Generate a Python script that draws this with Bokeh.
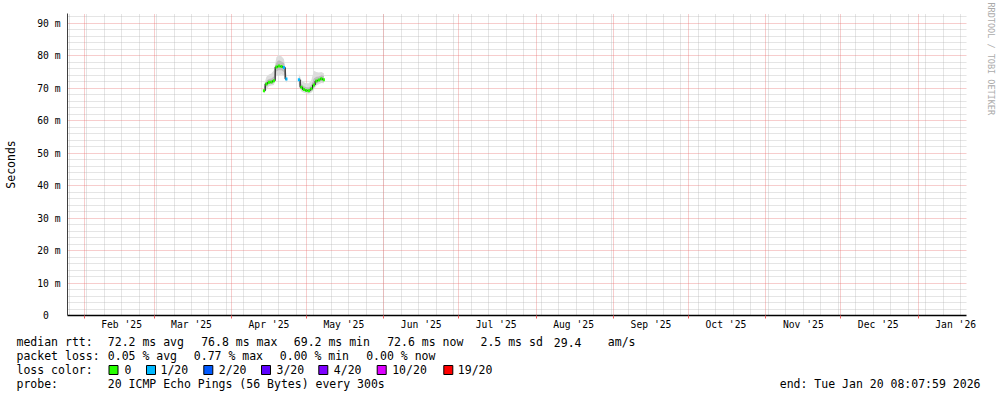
import math
import numpy as np
import pandas as pd
from bokeh.plotting import figure
from bokeh.layouts import column
from bokeh.models import FixedTicker, Grid, Label, ColumnDataSource, Range1d
from bokeh.core.properties import value
from bokeh.embed import file_html
from bokeh.resources import INLINE

# ---------------- data ----------------
dates = ["2025-04-14", "2025-04-15", "2025-04-16", "2025-04-17", "2025-04-18",
         "2025-04-19", "2025-04-20", "2025-04-21", "2025-04-22", "2025-04-23",
         "2025-04-25",
         "2025-04-28", "2025-04-29", "2025-04-30", "2025-05-01", "2025-05-02",
         "2025-05-03", "2025-05-04", "2025-05-05", "2025-05-06", "2025-05-07", "2025-05-08"]
median_ms = [69.2, 71.3, 71.8, 71.9, 72.3, 76.5, 76.8, 76.7, 76.4, 72.8,
             np.nan,
             72.6, 70.3, 69.6, 69.3, 69.2, 69.8, 71.0, 72.2, 72.5, 72.9, 72.6]
loss_of_20 = [0, 0, 0, 0, 0, 0, 0, 0, 1, 1,
              0,
              1, 0, 0, 0, 0, 0, 0, 0, 0, 0, 0]
smoke_lo_outer = [68.3, 69.5, 70.6, 70.8, 71.0, 73.8, 74.0, 74.2, 73.8, 71.5,
                  np.nan,
                  70.5, 69.0, 68.6, 68.4, 68.3, 68.6, 69.5, 70.8, 71.2, 71.6, 71.5]
smoke_hi_outer = [71.0, 73.5, 74.2, 74.5, 75.5, 79.5, 80.3, 79.8, 79.0, 74.5,
                  np.nan,
                  74.5, 72.5, 71.8, 71.5, 71.5, 72.5, 75.4, 75.0, 74.8, 75.0, 74.6]
smoke_lo_inner = [68.8, 70.5, 71.2, 71.3, 71.6, 75.2, 75.5, 75.5, 75.0, 72.0,
                  np.nan,
                  71.2, 69.6, 69.1, 68.8, 68.7, 69.2, 70.2, 71.4, 71.8, 72.1, 72.0]
smoke_hi_inner = [70.0, 72.3, 72.8, 73.0, 73.6, 78.0, 78.6, 78.2, 77.8, 73.8,
                  np.nan,
                  73.6, 71.3, 70.6, 70.3, 70.2, 71.0, 73.0, 73.5, 73.6, 74.0, 73.8]

loss_levels = [0, 1, 2, 3, 4, 10, 19]
loss_labels = ["0", "1/20", "2/20", "3/20", "4/20", "10/20", "19/20"]
loss_colors = ["#26ff00", "#00b8ff", "#0059ff", "#5e00ff", "#7e00ff", "#dd00ff", "#ff0000"]

month_starts = ["2025-02-01", "2025-03-01", "2025-04-01", "2025-05-01", "2025-06-01",
                "2025-07-01", "2025-08-01", "2025-09-01", "2025-10-01", "2025-11-01",
                "2025-12-01", "2026-01-01"]
month_labels = ["Feb '25", "Mar '25", "Apr '25", "May '25", "Jun '25", "Jul '25",
                "Aug '25", "Sep '25", "Oct '25", "Nov '25", "Dec '25", "Jan '26"]
y_ticks = [0, 10, 20, 30, 40, 50, 60, 70, 80, 90]
y_labels = ["0\u00a0\u00a0", "10 m", "20 m", "30 m", "40 m", "50 m", "60 m", "70 m", "80 m", "90 m"]

end_time = "2026-01-20 08:07:59"
span_days = 360

rtt_stats = ["72.2 ms avg", "76.8 ms max", "69.2 ms min", "72.6 ms now", "2.5 ms sd", "29.4", "am/s"]
loss_stats = ["0.05 % avg", "0.77 % max", "0.00 % min", "0.00 % now"]
probe_text = "20 ICMP Echo Pings (56 Bytes) every 300s"
end_text = "end: Tue Jan 20 08:07:59 2026"

# ---------------- conversions ----------------
epoch = pd.Timestamp("2025-01-01")
def to_days(s):
    return (pd.Timestamp(s) - epoch) / pd.Timedelta(days=1)

x = np.array([to_days(d) for d in dates])
x_end = to_days(end_time)
x_start = x_end - span_days
med = np.array(median_ms, dtype=float)
Y_TOP = 93.0

def loss_color(n):
    c = loss_colors[0]
    for lv, col in zip(loss_levels, loss_colors):
        if n >= lv:
            c = col
    return c

MONO = "DejaVu Sans Mono"
W = 997
H_CHART, H_KEY = 333, 64
FL, FR, FT, FB = 67, 31, 13, 18
FRAME_W = W - FL - FR
FRAME_H = H_CHART - FT - FB
FRAME_BOTTOM = H_CHART - FB

p = figure(width=W, height=H_CHART, output_backend="svg", toolbar_location=None,
           x_range=Range1d(x_start, x_end), y_range=Range1d(0, Y_TOP),
           min_border_left=FL, min_border_right=FR, min_border_top=FT, min_border_bottom=FB)
p.outline_line_color = None
p.background_fill_color = "white"
p.border_fill_color = "white"
p.xgrid.visible = False
p.ygrid.visible = False
p.frame_align = False

def px_to_x(cx):
    return x_start + (cx - FL) * (x_end - x_start) / FRAME_W
def px_to_y(cy):
    return (FRAME_BOTTOM - cy) * Y_TOP / FRAME_H

# grids
sundays = [to_days(d) for d in pd.date_range((epoch + pd.Timedelta(days=x_start)).normalize(),
                                             pd.Timestamp(end_time), freq="W-SUN")]
ms_days = [to_days(d) for d in month_starts]
minor_y = [v for v in range(2, 93, 2) if v % 10 != 0]
major_y = [v for v in y_ticks if v > 0]

minor_col, minor_alpha = "#B4B4B4", 0.7
major_col, major_alpha = "#E87070", 0.7
p.add_layout(Grid(dimension=0, ticker=FixedTicker(ticks=sundays), grid_line_color=minor_col,
                  grid_line_alpha=minor_alpha, grid_line_dash="1 1"))
p.add_layout(Grid(dimension=1, ticker=FixedTicker(ticks=minor_y), grid_line_color=minor_col,
                  grid_line_alpha=minor_alpha, grid_line_dash="1 1"))
p.add_layout(Grid(dimension=0, ticker=FixedTicker(ticks=ms_days), grid_line_color=major_col,
                  grid_line_alpha=major_alpha, grid_line_dash="1 1"))
p.add_layout(Grid(dimension=1, ticker=FixedTicker(ticks=major_y), grid_line_color=major_col,
                  grid_line_alpha=major_alpha, grid_line_dash="1 1"))

# axes
label_ticks = [int(round(d)) + 15 for d in ms_days]
xa = p.xaxis[0]
xa.ticker = FixedTicker(ticks=label_ticks, minor_ticks=ms_days)
xa.major_label_overrides = {t: l for t, l in zip(label_ticks, month_labels)}
xa.major_tick_line_color = None
xa.major_tick_out = 0
xa.major_tick_in = 0
xa.minor_tick_line_color = "#F06060"
xa.minor_tick_out = 3
xa.minor_tick_in = 0
xa.major_label_standoff = 0
xa.major_label_text_font = MONO
xa.major_label_text_font_size = "9.7px"
xa.major_label_text_color = "black"
xa.axis_line_color = "black"
xa.axis_line_width = 1.5

ya = p.yaxis[0]
ya.ticker = FixedTicker(ticks=y_ticks)
ya.major_label_overrides = {t: l for t, l in zip(y_ticks, y_labels)}
ya.major_tick_line_color = None
ya.major_tick_out = 0
ya.major_tick_in = 0
ya.minor_tick_line_color = None
ya.minor_tick_out = 0
ya.minor_tick_in = 0
ya.major_label_standoff = 7
ya.major_label_text_font = MONO
ya.major_label_text_font_size = "9.7px"
ya.major_label_text_color = "black"
ya.axis_line_color = "#404040"
ya.axis_label = "Seconds"
ya.axis_label_text_font = MONO
ya.axis_label_text_font_size = "11.5px"
ya.axis_label_text_font_style = "normal"
ya.axis_label_text_color = "black"
ya.axis_label_standoff = 16

# smoke, split at gaps
valid = ~np.isnan(med)
segments, cur = [], []
for i, ok in enumerate(valid):
    if ok:
        cur.append(i)
    elif cur:
        segments.append(cur); cur = []
if cur:
    segments.append(cur)

for seg in segments:
    xs = x[seg]
    p.varea(x=xs, y1=np.array(smoke_lo_outer)[seg], y2=np.array(smoke_hi_outer)[seg],
            fill_color="#DDDDDD")
    p.varea(x=xs, y1=np.array(smoke_lo_inner)[seg], y2=np.array(smoke_hi_inner)[seg],
            fill_color="#BDBDBD")
    p.step(x=xs, y=med[seg], mode="center", line_color="black", line_width=1)

src = ColumnDataSource(dict(x=x[valid], y=med[valid],
                            c=[loss_color(n) for n, ok in zip(loss_of_20, valid) if ok]))
p.rect(x="x", y="y", width=0.85, height=3, height_units="screen", fill_color="c",
       line_color=None, source=src)

# vertical credit text in the right margin
p.add_layout(Label(x=px_to_x(990), y=px_to_y(2), x_units="data", y_units="data",
                   text="RRDTOOL / TOBI OETIKER", text_font=MONO, text_font_size="8.5px",
                   text_color="#AAAAAA", text_align="left", text_baseline="middle",
                   angle=-math.pi / 2), "right")

# ---------------- key / statistics strip below the chart ----------------
q = figure(width=W, height=H_KEY, output_backend="svg", toolbar_location=None,
           x_range=Range1d(0, W), y_range=Range1d(H_KEY, 0),
           min_border=0, x_axis_location=None, y_axis_location=None)
q.outline_line_color = None
q.xgrid.visible = False
q.ygrid.visible = False
q.background_fill_color = "white"
q.border_fill_color = "white"
q.frame_align = False

def ky(cy):
    return cy - H_CHART

row_y = [341.5, 355.0, 369.3, 383.3]
txt, tx, ty, ta = [], [], [], []
def put(s, cx, cy, align="left"):
    txt.append(s); tx.append(cx); ty.append(ky(cy)); ta.append(align)

put("median rtt:", 16, row_y[0])
for s, cx in zip(rtt_stats, [107.3, 200.7, 293.3, 386.7, 480.0, 553.3, 607.3]):
    put(s, cx, row_y[0])
put("packet loss:", 16, row_y[1])
for s, cx in zip(loss_stats, [107.3, 193.3, 279.3, 365.7]):
    put(s, cx, row_y[1])
put("loss color:", 16, row_y[2])
lab_left = [124.0, 160.0, 218.3, 276.0, 333.3, 391.7, 457.3]
for s, cx in zip(loss_labels, lab_left):
    put(s, cx, row_y[2])
put("probe:", 16, row_y[3])
put(probe_text, 107.3, row_y[3])
put(end_text, 980, row_y[3], align="right")

q.text(x="x", y="y", text="t", text_align="a",
       source=ColumnDataSource(dict(x=tx, y=ty, t=txt, a=ta)),
       text_font=value(MONO), text_font_size="11.5px", text_color="black",
       text_baseline="middle")

sq_left = [108.5, 146.0, 203.3, 261.0, 318.3, 376.7, 443.3]
q.rect(x=[sl + 4.5 for sl in sq_left], y=[ky(369.5)] * len(sq_left), width=9, height=9,
       fill_color=loss_colors, line_color="black", line_width=1)

layout = column(p, q, spacing=0)
open("out.html", "w").write(file_html(layout, INLINE))
